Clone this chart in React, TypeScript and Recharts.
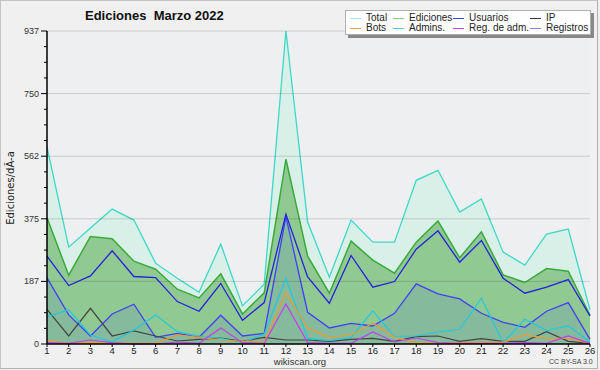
import { ComposedChart, Area, Line, XAxis, YAxis, CartesianGrid, ReferenceLine } from 'recharts'

const days = [1, 2, 3, 4, 5, 6, 7, 8, 9, 10, 11, 12, 13, 14, 15, 16, 17, 18, 19, 20, 21, 22, 23, 24, 25, 26]

const total = [590, 290, 347, 404, 371, 242, 197, 155, 299, 114, 179, 937, 365, 200, 371, 305, 305, 490, 520, 395, 434, 275, 236, 329, 344, 102]
const ediciones = [378, 206, 322, 315, 248, 224, 164, 138, 210, 90, 153, 553, 263, 152, 308, 251, 212, 305, 368, 258, 336, 207, 184, 226, 218, 86]
const usuarios = [263, 175, 204, 279, 202, 199, 127, 98, 181, 71, 124, 388, 201, 122, 265, 170, 187, 284, 339, 245, 310, 197, 152, 170, 193, 84]
const registros = [198, 87, 24, 90, 119, 20, 32, 20, 86, 24, 32, 381, 95, 48, 62, 54, 92, 180, 150, 135, 92, 65, 50, 98, 124, 14]
const ip = [104, 24, 107, 24, 39, 24, 9, 14, 18, 8, 20, 12, 12, 8, 14, 17, 8, 22, 24, 8, 16, 8, 8, 37, 8, 2]
const admins = [82, 102, 27, 6, 42, 87, 37, 24, 17, 4, 30, 196, 17, 10, 20, 99, 22, 24, 36, 44, 137, 4, 74, 40, 54, 6]
const bots = [10, 2, 5, 3, 2, 2, 27, 20, 12, 8, 5, 153, 47, 20, 27, 62, 20, 4, 2, 4, 6, 5, 27, 17, 17, 2]
const regAdm = [4, 2, 12, 4, 0, 0, 6, 2, 48, 4, 2, 120, 4, 2, 2, 36, 6, 18, 4, 2, 2, 2, 4, 2, 24, 2]

// major y ticks: position and printed label
const yMajor = [0, 187.4, 374.8, 562.2, 749.6, 937]
const yLabels = ['0', '187', '375', '562', '750', '937']

const legendItems = [
  { name: 'Total', color: '#a8e8e0' },
  { name: 'Ediciones', color: '#88d088' },
  { name: 'Usuarios', color: '#4040ff' },
  { name: 'IP', color: '#333333' },
  { name: 'Bots', color: '#f0a040' },
  { name: 'Admins.', color: '#40d0e0' },
  { name: 'Reg. de adm.', color: '#d040f0' },
  { name: 'Registros', color: '#8080ff' },
]

const data = days.map((d, i) => ({
  day: d,
  total: total[i],
  ediciones: ediciones[i],
  usuarios: usuarios[i],
  registros: registros[i],
  ip: ip[i],
  admins: admins[i],
  bots: bots[i],
  regAdm: regAdm[i],
}))

// minor ticks every quarter between majors
const yAllTicks: number[] = []
for (let k = 0; k < yMajor.length - 1; k++) {
  const step = (yMajor[k + 1] - yMajor[k]) / 4
  for (let j = 0; j < 4; j++) yAllTicks.push(yMajor[k] + step * j)
}
yAllTicks.push(yMajor[yMajor.length - 1])

const FONT = '"Liberation Sans", Arial, sans-serif'

function YTick(props: any) {
  const { x, y, payload } = props
  const idx = yMajor.findIndex((v) => Math.abs(v - payload.value) < 0.01)
  const major = idx >= 0
  return (
    <g>
      <line x1={x - (major ? 6 : 3)} x2={x} y1={y} y2={y} stroke="#000" strokeWidth={1} />
      {major && (
        <text x={x - 8} y={y + 3} textAnchor="end" fontSize={9} fontFamily={FONT} fill="#333">
          {yLabels[idx]}
        </text>
      )}
    </g>
  )
}

function XTick(props: any) {
  const { x, y, payload } = props
  return (
    <g>
      <line x1={x} x2={x} y1={y} y2={y + 3} stroke="#000" strokeWidth={1} />
      <text x={x} y={y + 10} textAnchor="middle" fontSize={9.5} fontFamily={FONT} fill="#222">
        {payload.value}
      </text>
    </g>
  )
}

export default function App() {
  return (
    <div style={{ position: 'absolute', left: 0, top: 0, width: 600, height: 370, background: '#f0f0f0', overflow: 'hidden' }}>
      <div style={{ position: 'absolute', left: 0, top: 0, width: 596, height: 367, border: '1px solid #c4c4c4', borderRightColor: '#b0b0b0', borderBottomColor: '#b0b0b0' }} />
      <ComposedChart width={600} height={370} data={data} margin={{ top: 31, right: 10, bottom: 0, left: 0 }}>
        <CartesianGrid horizontal={false} vertical={false} fill="#eeeff1" />
        <XAxis
          dataKey="day"
          type="number"
          domain={[1, 26]}
          ticks={days}
          interval={0}
          height={26}
          tickSize={0}
          tickMargin={0}
          tickLine={false}
          tick={<XTick />}
          axisLine={{ stroke: '#000', strokeWidth: 1.5 }}
        />
        <YAxis
          type="number"
          domain={[0, 937]}
          ticks={yAllTicks}
          interval={0}
          width={47}
          tickSize={0}
          tickMargin={0}
          tickLine={false}
          tick={<YTick />}
          axisLine={{ stroke: '#000', strokeWidth: 1.5 }}
        />
        <Area type="linear" dataKey="total" stroke="#3cd8c8" strokeWidth={1.3} fill="#d8f0e8" fillOpacity={1} isAnimationActive={false} />
        <Area type="linear" dataKey="ediciones" stroke="#3aaa3a" strokeWidth={1.5} fill="#91c992" fillOpacity={1} isAnimationActive={false} />
        <Area type="linear" dataKey="registros" stroke="#4040f8" strokeWidth={1.3} fill="#85ba9c" fillOpacity={1} isAnimationActive={false} />
        {yMajor.slice(1).map((v) => (
          <ReferenceLine key={v} y={v} stroke="#000" strokeOpacity={0.15} strokeWidth={1} />
        ))}
        <Line type="linear" dataKey="ip" stroke="#444444" strokeWidth={1.2} dot={false} isAnimationActive={false} />
        <Line type="linear" dataKey="admins" stroke="#20c8e0" strokeWidth={1.2} dot={false} isAnimationActive={false} />
        <Line type="linear" dataKey="bots" stroke="#f09a30" strokeWidth={1.2} dot={false} isAnimationActive={false} />
        <Line type="linear" dataKey="regAdm" stroke="#c040f0" strokeWidth={1.2} dot={false} isAnimationActive={false} />
        <Line type="linear" dataKey="usuarios" stroke="#2222dd" strokeWidth={1.3} dot={false} isAnimationActive={false} />
      </ComposedChart>

      <div style={{ position: 'absolute', left: 85, top: 8, fontFamily: FONT, fontWeight: 'bold', fontSize: 13, color: '#111', whiteSpace: 'pre' }}>
        {'Ediciones  Marzo 2022'}
      </div>

      <div
        style={{
          position: 'absolute',
          left: 10,
          top: 188,
          transform: 'translate(-50%, -50%) rotate(-90deg)',
          fontFamily: '"DejaVu Sans", sans-serif',
          fontSize: 10,
          color: '#222',
          whiteSpace: 'nowrap',
        }}
      >
        Ediciones/dÃ-a
      </div>

      <div
        style={{
          position: 'absolute',
          left: 345,
          top: 10,
          width: 246,
          height: 25,
          background: '#fff',
          border: '1px solid #b0b0b0',
          boxShadow: '3px 3px 0 #888',
          boxSizing: 'border-box',
          display: 'grid',
          gridTemplateColumns: '43px 60px 77px auto',
          gridTemplateRows: '10px 10px',
          padding: '2px 0 0 4px',
          fontFamily: FONT,
          fontSize: 10,
          color: '#222',
        }}
      >
        {legendItems.map((it) => (
          <div key={it.name} style={{ display: 'flex', alignItems: 'center', whiteSpace: 'nowrap', lineHeight: '10px' }}>
            <span style={{ display: 'inline-block', width: 11, height: 1, background: it.color, marginRight: 5 }} />
            {it.name}
          </div>
        ))}
      </div>

      <div style={{ position: 'absolute', left: 300, top: 356, transform: 'translateX(-50%)', fontFamily: FONT, fontSize: 9.5, color: '#333' }}>
        wikiscan.org
      </div>
      <div style={{ position: 'absolute', left: 549, top: 358, fontFamily: FONT, fontSize: 7, color: '#444' }}>CC BY-SA 3.0</div>
    </div>
  )
}
